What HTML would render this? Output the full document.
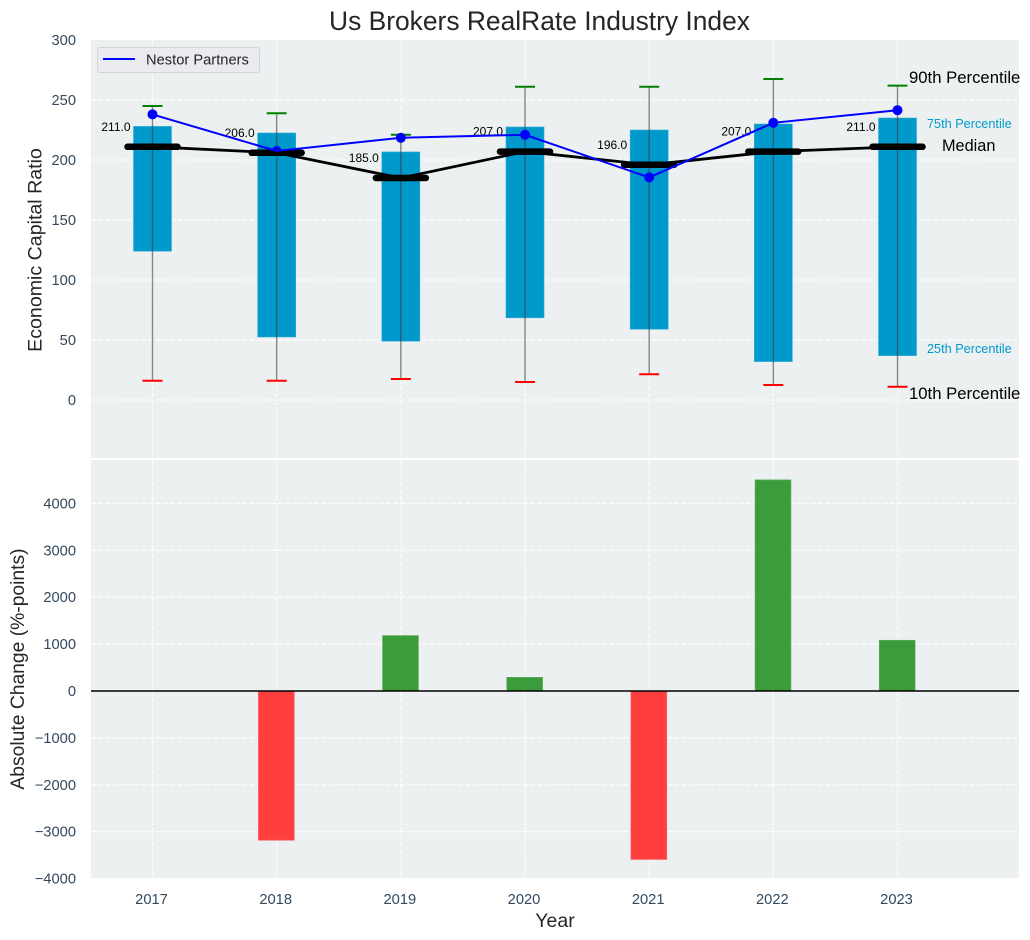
<!DOCTYPE html>
<html lang="en">
<head>
<meta charset="utf-8">
<title>Us Brokers RealRate Industry Index</title>
<style>
html,body{margin:0;padding:0;background:#fff;width:1030px;height:940px;overflow:hidden}
svg{display:block;font-family:"Liberation Sans",Arial,sans-serif}
</style>
</head>
<body>
<svg id="chart" xmlns="http://www.w3.org/2000/svg" width="1030" height="940" viewBox="0 0 1030 940">
<text x="539.500" y="30" font-size="26.400" text-anchor="middle" fill="#262626">Us Brokers RealRate Industry Index</text>
<rect x="91" y="40" width="928" height="418" fill="#ecf0f1"/>
<rect x="91" y="460" width="928" height="418" fill="#ecf0f1"/>
<g id="grid"></g>
<g id="changeBars"></g>
<line id="zeroLine" x1="91" x2="1019" stroke="#000" stroke-width="1.4"/>
<g id="boxes"></g>
<g id="whiskers"></g>
<g id="nestorDots"></g>
<g id="median"></g>
<polyline id="nestorLine" fill="none" stroke="#0000ff" stroke-width="2"/>
<g id="ticks"></g>
<text transform="translate(41.500 250) rotate(-90)" font-size="19.600" text-anchor="middle" fill="#262626">Economic Capital Ratio</text>
<text transform="translate(24 669) rotate(-90)" font-size="19.300" text-anchor="middle" fill="#262626">Absolute Change (%-points)</text>
<text x="555" y="927" font-size="19.500" text-anchor="middle" fill="#262626">Year</text>
<g>
<rect x="97.500" y="47.500" width="162" height="25" rx="2.500" fill="#e9ebf0" stroke="#d2d4d8"/>
<line x1="103" x2="135" y1="59" y2="59" stroke="#0000ff" stroke-width="2"/>
<text x="146" y="64.500" font-size="14.700" fill="#262626">Nestor Partners</text>
</g>
<text x="909" y="83" font-size="16.700" fill="#000">90th Percentile</text>
<text x="927" y="128" font-size="12.700" fill="#0099cc">75th Percentile</text>
<text x="942" y="151" font-size="16.300" fill="#000">Median</text>
<text x="927" y="353" font-size="12.700" fill="#0099cc">25th Percentile</text>
<text x="909" y="399" font-size="16.700" fill="#000">10th Percentile</text>
</svg>
<script>
const years = [2017, 2018, 2019, 2020, 2021, 2022, 2023];
const p90 = [245, 239, 221, 261, 261, 267.500, 262];
const p75 = [228, 222.500, 206.700, 227.500, 225, 230, 235];
const medianValues = [211, 206, 185, 207, 196, 207, 211];
const p25 = [124, 52.500, 49, 68.500, 59, 32, 37];
const p10 = [16, 16, 17.500, 15, 21.500, 12.500, 11];
const nestor = [238, 207.500, 218.500, 221, 185.500, 231, 241.500];
const absoluteChange = [0, -3180, 1180, 290, -3590, 4500, 1080];
const topTicks = [0, 50, 100, 150, 200, 250, 300];
const bottomTicks = [-4000, -3000, -2000, -1000, 0, 1000, 2000, 3000, 4000];

const NS = 'http://www.w3.org/2000/svg';
const xScale = v => 152.5 + (v - 2017) * 124.17;
const yTop = v => 400 - v * 1.2;
const yBottom = v => 691 - v * 0.0469;
const mk = (parent, tag, attrs) => {
  const e = document.createElementNS(NS, tag);
  for (const k in attrs) e.setAttribute(k, attrs[k]);
  document.getElementById(parent).appendChild(e);
  return e;
};
const gridStyle = {stroke: '#ffffff', 'stroke-width': 1.2, 'stroke-dasharray': '5 2.2', opacity: 0.9};

topTicks.forEach(t => {
  if (t === 300) return;
  const l = mk('grid', 'line', {x1: 91, x2: 1019, y1: yTop(t), y2: yTop(t), ...gridStyle});
  
  
});
bottomTicks.forEach(t => {
  const l = mk('grid', 'line', {x1: 91, x2: 1019, y1: yBottom(t), y2: yBottom(t), ...gridStyle});
  
  
});
years.forEach(y => {
  const a = mk('grid', 'line', {x1: xScale(y), x2: xScale(y), y1: 40, y2: 458, ...gridStyle});
  
  
  const b = mk('grid', 'line', {x1: xScale(y), x2: xScale(y), y1: 460, y2: 878, ...gridStyle});
  
  
});

document.getElementById('zeroLine').setAttribute('y1', yBottom(0));
document.getElementById('zeroLine').setAttribute('y2', yBottom(0));

years.forEach((y, i) => {
  const x = xScale(y);
  const v = absoluteChange[i];
  if (v !== 0) {
    const top = Math.min(yBottom(v), yBottom(0));
    const b = mk('changeBars', 'rect', {x: x - 18.2, y: top, width: 35.7, height: Math.abs(yBottom(v) - yBottom(0)),
      fill: v > 0 ? '#3c9c3c' : '#ff3e3e', stroke: v > 0 ? '#55ad55' : '#ff5a5a', 'stroke-width': 0.8});
    
    
  }
  const box = mk('boxes', 'rect', {x: x - 19, y: yTop(p75[i]), width: 38, height: yTop(p25[i]) - yTop(p75[i]),
    fill: '#0099cc', stroke: '#33add6', 'stroke-width': 0.6});
  
  
  const w = mk('whiskers', 'line', {x1: x, x2: x, y1: yTop(p90[i]), y2: yTop(p10[i]), stroke: '#3a3a3a', 'stroke-opacity': 0.6, 'stroke-width': 1.4});
  
  
  const hi = mk('whiskers', 'line', {x1: x - 10, x2: x + 10, y1: yTop(p90[i]), y2: yTop(p90[i]), stroke: '#008000', 'stroke-width': 2});
  
  
  const lo = mk('whiskers', 'line', {x1: x - 10, x2: x + 10, y1: yTop(p10[i]), y2: yTop(p10[i]), stroke: '#ff0000', 'stroke-width': 2});
  
  
  const d = mk('nestorDots', 'circle', {cx: x, cy: yTop(nestor[i]), r: 5, fill: '#0000ff'});
  
  
});

const medLine = mk('median', 'polyline', {fill: 'none', stroke: '#000', 'stroke-width': 2.8,
  points: years.map((y, i) => xScale(y) + ',' + yTop(medianValues[i])).join(' ')});


years.forEach((y, i) => {
  const x = xScale(y);
  const m = mk('median', 'line', {x1: x - 25, x2: x + 25, y1: yTop(medianValues[i]), y2: yTop(medianValues[i]),
    stroke: '#000', 'stroke-width': 6.5, 'stroke-linecap': 'round'});
  
  
  const t = mk('median', 'text', {x: x - 22, y: yTop(medianValues[i]) - 16, 'font-size': 12, 'text-anchor': 'end', fill: '#000'});
  
  
  t.textContent = medianValues[i].toFixed(1);
});

document.getElementById('nestorLine').setAttribute('points', years.map((y, i) => xScale(y) + ',' + yTop(nestor[i])).join(' '));

const tickFill = '#34495e';
topTicks.forEach(t => {
  const e = mk('ticks', 'text', {x: 76, y: yTop(t) + 5, 'font-size': 14.7, 'text-anchor': 'end', fill: tickFill});
  
  
  e.textContent = t;
});
bottomTicks.forEach(t => {
  const e = mk('ticks', 'text', {x: 76, y: yBottom(t) + 5, 'font-size': 14.7, 'text-anchor': 'end', fill: tickFill});
  
  
  e.textContent = String(t).replace('-', '\u2212');
});
years.forEach(y => {
  const e = mk('ticks', 'text', {x: xScale(y) - 1, y: 904, 'font-size': 14.7, 'text-anchor': 'middle', fill: tickFill});
  
  
  e.textContent = y;
});
</script>
</body>
</html>
